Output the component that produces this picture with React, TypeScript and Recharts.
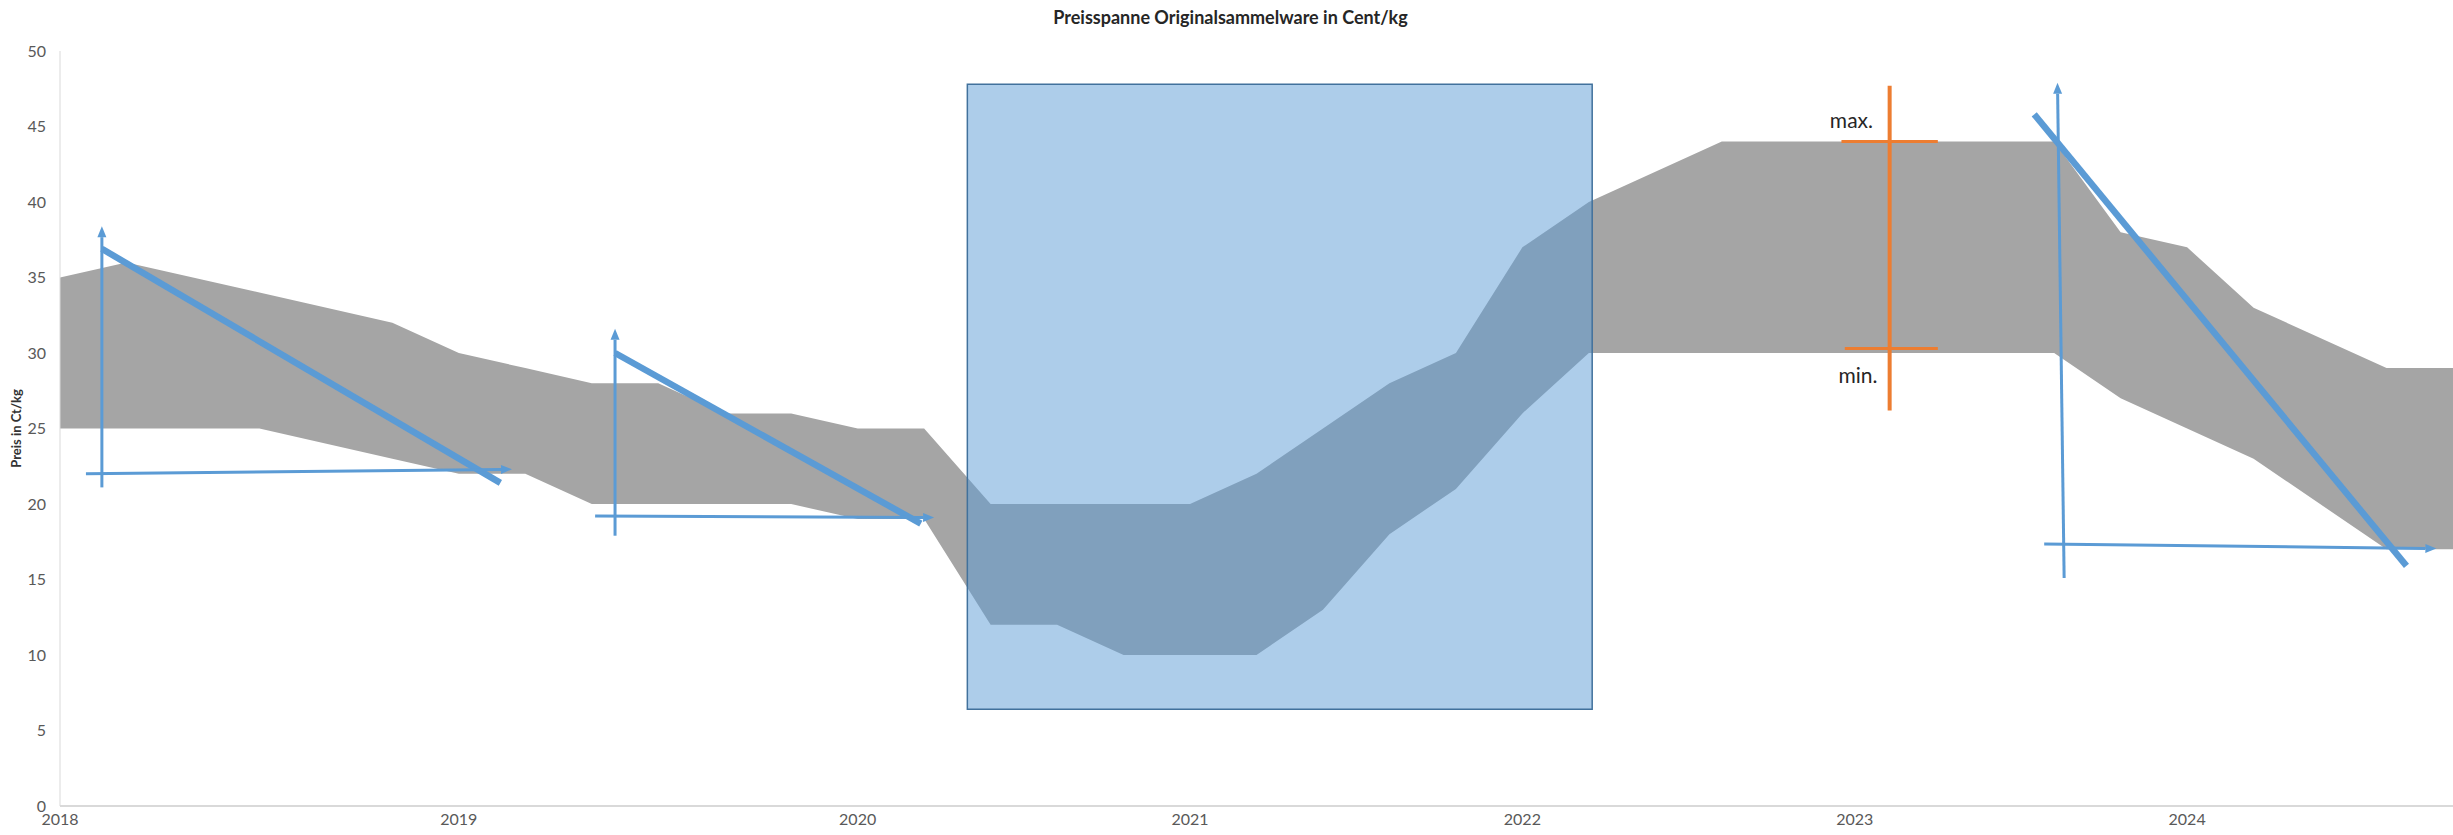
import React from "react";
import {
  ComposedChart,
  Area,
  XAxis,
  YAxis,
  ReferenceArea,
  ReferenceLine,
  ReferenceDot,
} from "recharts";

// Zeitachse als laufende Periode (nicht gleichmäßig pro Jahr), Jahre als Beschriftung
const periods = [0, 2, 6, 10, 12, 14, 16, 18, 20, 22, 24, 26, 28, 30, 32, 34, 36, 38, 40, 42, 44, 46, 50, 60, 62, 64, 66, 70, 72];
const priceMin = [25, 25, 25, 23, 22, 22, 20, 20, 20, 20, 19, 19, 12, 12, 10, 10, 10, 13, 18, 21, 26, 30, 30, 30, 27, 25, 23, 17, 17];
const priceMax = [35, 36, 34, 32, 30, 29, 28, 28, 26, 26, 25, 25, 20, 20, 20, 20, 22, 25, 28, 30, 37, 40, 44, 44, 38, 37, 33, 29, 29];

const yearTicks = [0, 12, 24, 34, 44, 54, 64];
const yearLabels = ["2018", "2019", "2020", "2021", "2022", "2023", "2024"];
const priceTicks = [0, 5, 10, 15, 20, 25, 30, 35, 40, 45, 50];

// annotations: [x1, y1, x2, y2] in period / Cent units
const axisArrows = [
  [1.26, 21.1, 1.26, 38.4],
  [0.78, 22.0, 13.6, 22.3],
  [16.7, 17.9, 16.7, 31.6],
  [16.1, 19.2, 26.3, 19.1],
  [60.3, 15.1, 60.1, 47.9],
  [59.7, 17.35, 71.5, 17.05],
];
const trendLines = [
  [1.26, 36.9, 13.25, 21.4],
  [16.7, 30.0, 25.9, 18.7],
  [59.4, 45.8, 70.6, 15.9],
];
const highlightBox = [27.3, 6.4, 46.1, 47.8];
const spanBar = [55.05, 26.2, 55.05, 47.7];
const spanTicks = [
  [53.6, 44.0, 56.5, 44.0],
  [53.7, 30.3, 56.5, 30.3],
];
const spanLabels = [
  { x: 53.9, y: 45.4, text: "max." },
  { x: 54.1, y: 28.5, text: "min." },
];

const BLUE = "#5B9BD5";
const ORANGE = "#ED7D31";
const FONT = "Lato, 'Open Sans', sans-serif";

const data = periods.map((p, i) => ({ p, range: [priceMin[i], priceMax[i]] }));

const arrowShape = (props: any) => {
  const { x1, y1, x2, y2 } = props;
  const a = Math.atan2(y2 - y1, x2 - x1);
  const len = 11;
  const half = 4.5;
  const bx = x2 - len * Math.cos(a);
  const by = y2 - len * Math.sin(a);
  const nx = -Math.sin(a) * half;
  const ny = Math.cos(a) * half;
  return (
    <g>
      <line x1={x1} y1={y1} x2={bx} y2={by} stroke={BLUE} strokeWidth={3} />
      <polygon points={`${x2},${y2} ${bx + nx},${by + ny} ${bx - nx},${by - ny}`} fill={BLUE} />
    </g>
  );
};

export default function App() {
  return (
    <div style={{ position: "absolute", left: 0, top: 0, width: 2453, height: 835, background: "#fff" }}>
      <div
        style={{
          position: "absolute",
          top: 6,
          left: 0,
          width: 2453,
          textAlign: "center",
          paddingLeft: 4,
          fontFamily: FONT,
          fontWeight: 700,
          fontSize: 18,
          color: "#262626",
        }}
      >
        Preisspanne Originalsammelware in Cent/kg
      </div>
      <ComposedChart width={2453} height={835} data={data} margin={{ top: 51, right: 0, bottom: 0, left: 0 }}>
        <XAxis
          type="number"
          dataKey="p"
          domain={[0, 72]}
          ticks={yearTicks}
          interval={0}
          tickFormatter={(v: number) => yearLabels[yearTicks.indexOf(v)] ?? ""}
          height={29}
          tickLine={false}
          axisLine={{ stroke: "#D9D9D9", strokeWidth: 2 }}
          tick={{ fill: "#595959", fontSize: 16, fontFamily: FONT }}
          tickMargin={2}
        />
        <YAxis
          type="number"
          domain={[0, 50]}
          ticks={priceTicks}
          interval={0}
          width={60}
          tickLine={false}
          axisLine={{ stroke: "#D9D9D9" }}
          tick={{ fill: "#595959", fontSize: 16, fontFamily: FONT }}
          tickMargin={8}
          label={{
            value: "Preis in Ct/kg",
            angle: -90,
            position: "insideLeft",
            offset: 16,
            fill: "#333333",
            fontSize: 13,
            fontWeight: 700,
            fontFamily: FONT,
            style: { textAnchor: "middle" },
          }}
        />
        <Area
          type="linear"
          dataKey="range"
          stroke="none"
          fill="#A5A5A5"
          fillOpacity={1}
          dot={false}
          activeDot={false}
          isAnimationActive={false}
        />
        <ReferenceArea
          x1={highlightBox[0]}
          y1={highlightBox[1]}
          x2={highlightBox[2]}
          y2={highlightBox[3]}
          fill={BLUE}
          fillOpacity={0.5}
          stroke="#41719C"
          strokeWidth={1.5}
          ifOverflow="visible"
        />
        {trendLines.map((s, i) => (
          <ReferenceLine
            key={`t${i}`}
            segment={[{ x: s[0], y: s[1] }, { x: s[2], y: s[3] }]}
            stroke={BLUE}
            strokeWidth={6.5}
            ifOverflow="visible"
          />
        ))}
        {axisArrows.map((s, i) => (
          <ReferenceLine
            key={`a${i}`}
            segment={[{ x: s[0], y: s[1] }, { x: s[2], y: s[3] }]}
            shape={arrowShape}
            ifOverflow="visible"
          />
        ))}
        <ReferenceLine
          segment={[{ x: spanBar[0], y: spanBar[1] }, { x: spanBar[2], y: spanBar[3] }]}
          stroke={ORANGE}
          strokeWidth={4}
          ifOverflow="visible"
        />
        {spanTicks.map((s, i) => (
          <ReferenceLine
            key={`s${i}`}
            segment={[{ x: s[0], y: s[1] }, { x: s[2], y: s[3] }]}
            stroke={ORANGE}
            strokeWidth={3}
            ifOverflow="visible"
          />
        ))}
        {spanLabels.map((l) => (
          <ReferenceDot
            key={l.text}
            x={l.x}
            y={l.y}
            r={0}
            fill="none"
            stroke="none"
            ifOverflow="visible"
            label={{ value: l.text, position: "center", fill: "#262626", fontSize: 21, fontFamily: FONT }}
          />
        ))}
      </ComposedChart>
    </div>
  );
}
